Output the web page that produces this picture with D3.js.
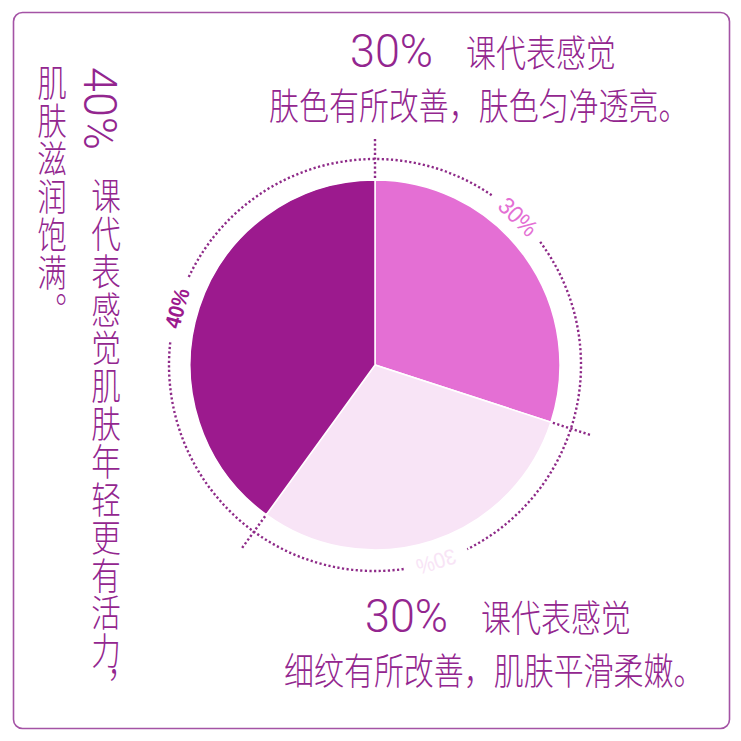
<!DOCTYPE html>
<html>
<head>
<meta charset="utf-8">
<script src="https://cdn.jsdelivr.net/npm/d3@7"></script>
<style>
  html, body { margin: 0; padding: 0; background: #fff; }
  #plot { width: 741px; height: 741px; }
  .cjk { font-family: "Noto Sans CJK SC", sans-serif; font-weight: 300; }
  .num { font-family: Roboto, "Liberation Sans", sans-serif; font-weight: 300; }
  .pct { font-family: "Liberation Sans", Arial, sans-serif; }
</style>
</head>
<body>
<div id="plot"></div>
<script>
// chart data
const shares = [30, 30, 40];
const shareLabels = ["30%", "30%", "40%"];
const sliceColors = ["#e46fd4", "#f8e4f6", "#9c1a8e"];

// caption texts
const captionTop = ["30%", "课代表感觉", "肤色有所改善，肤色匀净透亮。"];
const captionBottom = ["30%", "课代表感觉", "细纹有所改善，肌肤平滑柔嫩。"];
const captionLeft = ["40%", "课代表感觉肌肤年轻更有活力，", "肌肤滋润饱满。"];

const W = 741, H = 741;
const textColor = "#93268f";
const dotColor = "#8e2a88";

const svg = d3.select("#plot")
    .append("svg")
    .attr("width", W)
    .attr("height", H);

// frame
svg.append("rect")
    .attr("x", 13.5).attr("y", 12.5)
    .attr("width", 716).attr("height", 716)
    .attr("rx", 9)
    .attr("fill", "none")
    .attr("stroke", "#a453a5")
    .attr("stroke-width", 1.6);

// pie
const cx = 375, cy = 365, R = 185, ringR = 206;
const g = svg.append("g").attr("transform", "translate(" + cx + "," + cy + ")");

const pie = d3.pie().sort(null).value(d => d);
const arcs = pie(shares);
const arc = d3.arc().innerRadius(0).outerRadius(R);

g.selectAll("path.slice")
    .data(arcs)
    .enter()
    .append("path")
    .attr("class", "slice")
    .attr("d", arc)
    .attr("fill", (d, i) => sliceColors[i])
    .attr("stroke", "#fff")
    .attr("stroke-width", 1.5);

// dotted ring, broken where the labels sit
const labelNudge = [-10, 0.7, -2];
const gapHalf = 9.3 * Math.PI / 180;
const labelAng = arcs.map((d, i) => (d.startAngle + d.endAngle) / 2 + labelNudge[i] * Math.PI / 180);

// d3 angles run clockwise from 12 o'clock, canvas angles from 3 o'clock
function openArc(a0, a1, r) {
    const p = d3.path();
    p.moveTo(r * Math.sin(a0), -r * Math.cos(a0));
    p.arc(0, 0, r, a0 - Math.PI / 2, a1 - Math.PI / 2, false);
    return p.toString();
}

labelAng.forEach((a, i) => {
    let next = labelAng[(i + 1) % labelAng.length];
    if (next < a) next += 2 * Math.PI;
    g.append("path")
        .attr("d", openArc(a + gapHalf, next - gapHalf, ringR))
        .attr("fill", "none")
        .attr("stroke", dotColor)
        .attr("stroke-width", 2.4)
        .attr("stroke-dasharray", "2.2,2.4");
});

// radial dotted ticks at slice borders
g.selectAll("line.tick")
    .data(arcs)
    .enter()
    .append("line")
    .attr("class", "tick")
    .attr("x1", d => 187 * Math.sin(d.startAngle))
    .attr("y1", d => -187 * Math.cos(d.startAngle))
    .attr("x2", d => 227 * Math.sin(d.startAngle))
    .attr("y2", d => -227 * Math.cos(d.startAngle))
    .attr("stroke", dotColor)
    .attr("stroke-width", 2.4)
    .attr("stroke-dasharray", "2.2,2.4");

// percent labels on the ring
g.selectAll("text.pct")
    .data(arcs)
    .enter()
    .append("text")
    .attr("class", "pct")
    .attr("transform", (d, i) => {
        const a = labelAng[i];
        return "translate(" + (ringR * Math.sin(a)) + "," + (-ringR * Math.cos(a)) + ") rotate(" + (a * 180 / Math.PI) + ") scale(0.92,1)";
    })
    .attr("text-anchor", "middle")
    .attr("dominant-baseline", "central")
    .attr("font-size", (d, i) => i === 0 ? 24 : 22)
    .attr("font-weight", (d, i) => i === 2 ? "bold" : "normal")
    .attr("fill", (d, i) => sliceColors[i])
    .text((d, i) => shareLabels[i]);

// big percent numbers, fitted to the width
function bigNumber(str, transform) {
    svg.append("text")
        .attr("class", "num")
        .attr("transform", transform)
        .attr("font-size", 47)
        .attr("fill", textColor)
        .attr("textLength", 83)
        .attr("lengthAdjust", "spacingAndGlyphs")
        .text(str);
}

// condensed CJK text: draw at (x, y) and squeeze horizontally
function squeezed(str, x, y) {
    svg.append("g")
        .attr("transform", "translate(" + x + "," + y + ") scale(0.81,1)")
        .append("text")
        .attr("class", "cjk")
        .attr("font-size", 37)
        .attr("fill", textColor)
        .text(str);
}

// horizontal captions
function caption(lines, y0, y1, xs) {
    bigNumber(lines[0], "translate(" + xs[0] + "," + y0 + ")");
    squeezed(lines[1], xs[1], y0);
    squeezed(lines[2], xs[2], y1);
}
caption(captionTop, 67, 120, [350, 466, 269]);
caption(captionBottom, 632, 685, [365, 481, 284]);

// vertical caption on the left
bigNumber(captionLeft[0], "translate(84,67) rotate(90)");

function column(str, x, y) {
    svg.append("g")
        .attr("transform", "translate(" + x + "," + y + ") scale(0.8,1)")
        .append("text")
        .attr("class", "cjk")
        .style("writing-mode", "vertical-rl")
        .attr("font-size", 37)
        .attr("letter-spacing", 1)
        .attr("fill", textColor)
        .text(str);
}
column(captionLeft[1], 106, 177);
column(captionLeft[2], 52, 64);
</script>
</body>
</html>
